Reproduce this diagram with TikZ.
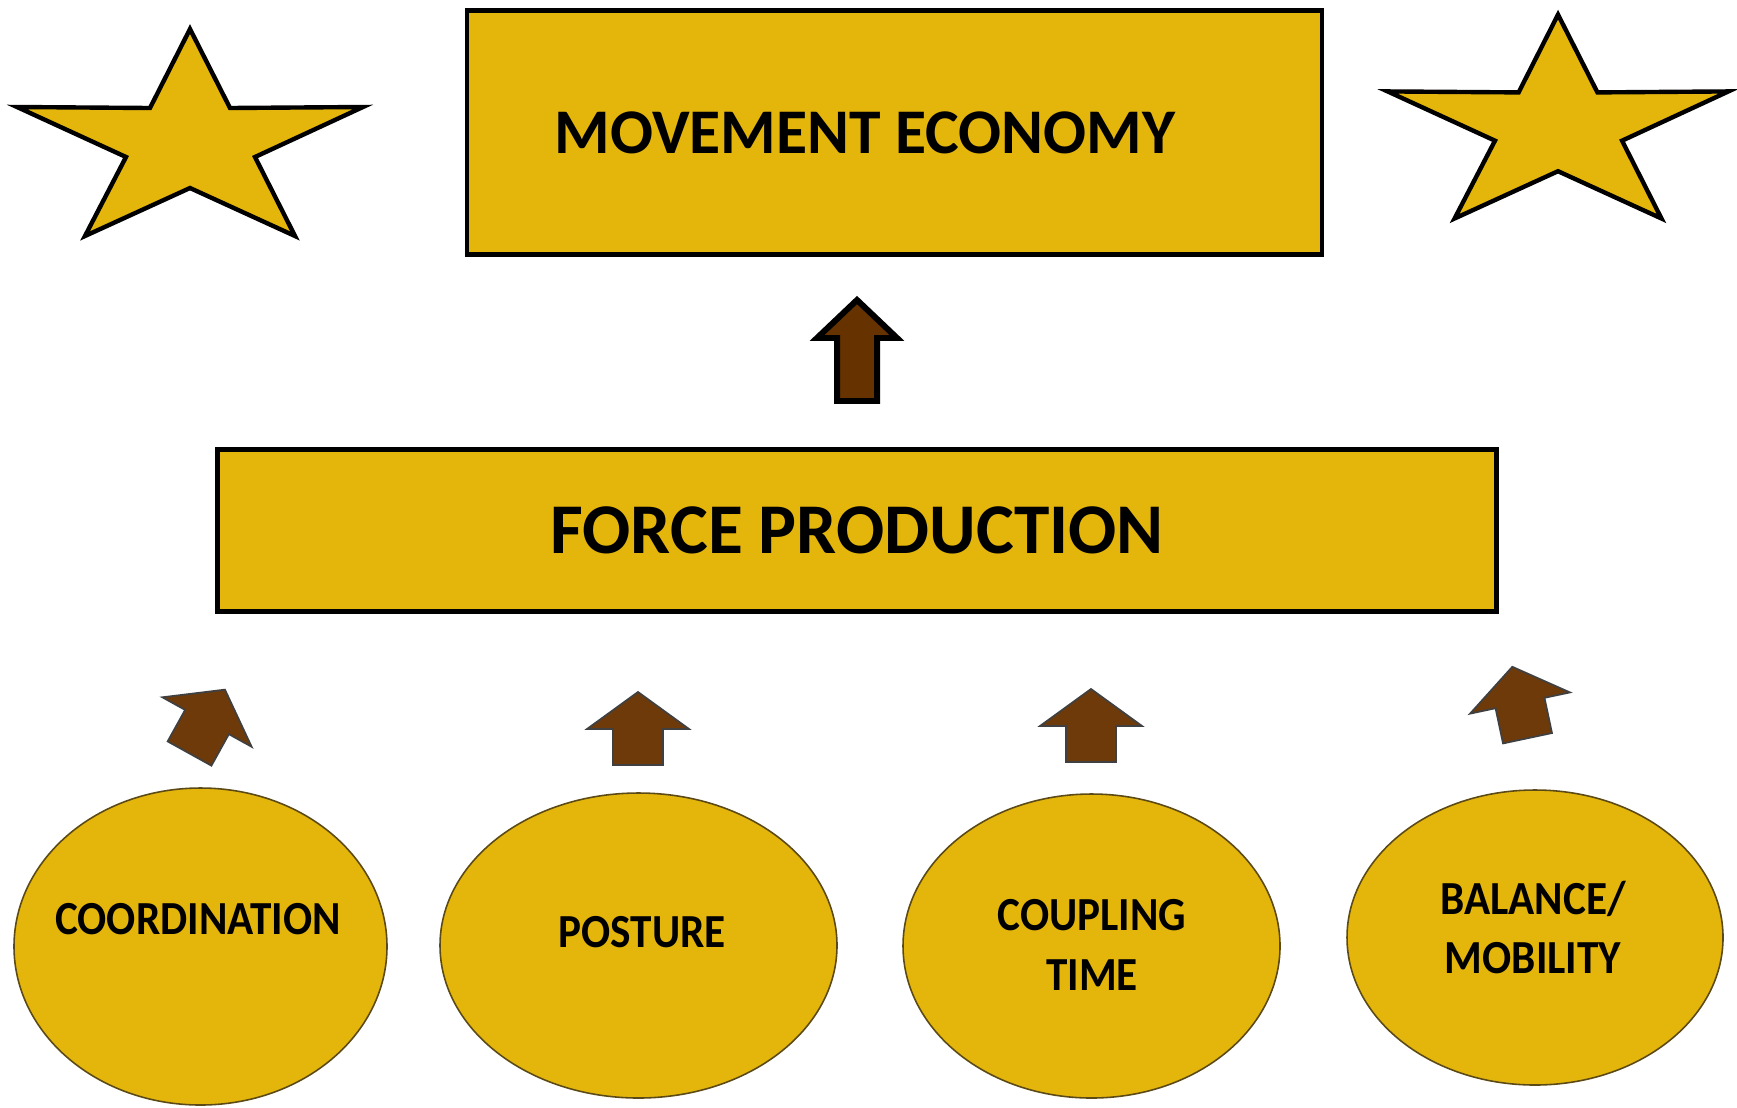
\documentclass[tikz,border=0pt]{standalone}
\usepackage{graphicx}
\usepackage{fontspec}
\setmainfont{Carlito}
\usetikzlibrary{
    shapes.geometric,
    positioning
}

\definecolor{gold}{RGB}{228,181,11}
\definecolor{rim}{RGB}{92,74,22}
\definecolor{bark}{RGB}{102,51,0}
\definecolor{barklight}{RGB}{110,58,10}

\tikzset{
    panel/.style={draw, line width=1.25pt, fill=gold},
    factor/.style={ellipse, draw=rim, line width=0.45pt, fill=gold},
    factortext/.style={font=\fontsize{13.5}{17}\selectfont\bfseries, align=center, inner sep=0pt},
    starline/.style={draw, line width=1.25pt, fill=gold, miter limit=12},
    bigarrow/.style={draw, line width=1.7pt, fill=bark},
    smallarrow/.style={draw=black!75, line width=0.5pt, fill=barklight}
}
\newcommand{\squeeze}[1]{\scalebox{0.91}[1]{#1}}

\begin{document}
\begin{tikzpicture}[x=0.1mm, y=-0.1mm]
    \useasboundingbox (0,0) rectangle (1737,1107);

    % stars beside the top box
    \foreach \cx/\cy/\s in {190/135/1, 1558/119/0.985}
        \draw[starline, shift={(\cx,\cy)}, scale=\s]
            (0,-106) -- (40,-27) -- (173,-28) -- (65,22) -- (105,101)
            -- (0,53) -- (-105,101) -- (-64,22) -- (-173,-28) -- (-40,-27) -- cycle;

    \node[panel, minimum width=85.5mm, minimum height=24.4mm] (economy) at (894.5,132.5) {};
    \node[font=\fontsize{18.1}{22}\selectfont\bfseries, inner sep=0pt] (economy label) at (865,133) {MOVEMENT ECONOMY};

    \draw[bigarrow, shift={(857,338)}]
        (-40,0) -- (0,-38) -- (40,0) -- (20,0) -- (20,63) -- (-20,63) -- (-20,0) -- cycle;

    \node[panel, font=\fontsize{20.3}{24}\selectfont\bfseries, minimum width=127.9mm, minimum height=16.2mm] (force) at (857,530.5) {FORCE PRODUCTION};

    % small arrows: x/y of the head base, tilt
    \foreach \x/\y/\a in {207/722/-29, 638/729/0, 1091/726/0, 1520/703/12}
        \draw[smallarrow, shift={(\x,\y)}, rotate=\a]
            (-51,0) -- (0,-37) -- (51,0) -- (25,0) -- (25,36) -- (-25,36) -- (-25,0) -- cycle;

    \node[factor, minimum width=37.3mm, minimum height=31.7mm] (coordination) at (200.5,946.5) {};
    \node[factor, minimum width=39.7mm, minimum height=30.5mm] (posture) at (638.5,945.5) {};
    \node[factor, minimum width=37.7mm, minimum height=30.4mm] (coupling) at (1091.5,946) {};
    \node[factor, minimum width=37.6mm, minimum height=29.5mm] (balance) at (1535,937.5) {};

    \node[factortext] (coordination label) at (198,919) {\squeeze{COORDINATION}};
    \node[factortext] (posture label) at (642,932.5) {\squeeze{POSTURE}};
    \node[factortext] (coupling label) at (1092,945) {\squeeze{COUPLING}\\\squeeze{TIME}};
    \node[factortext] (balance label) at (1533,927.5) {\squeeze{BALANCE/}\\\squeeze{MOBILITY}};
\end{tikzpicture}
\end{document}
